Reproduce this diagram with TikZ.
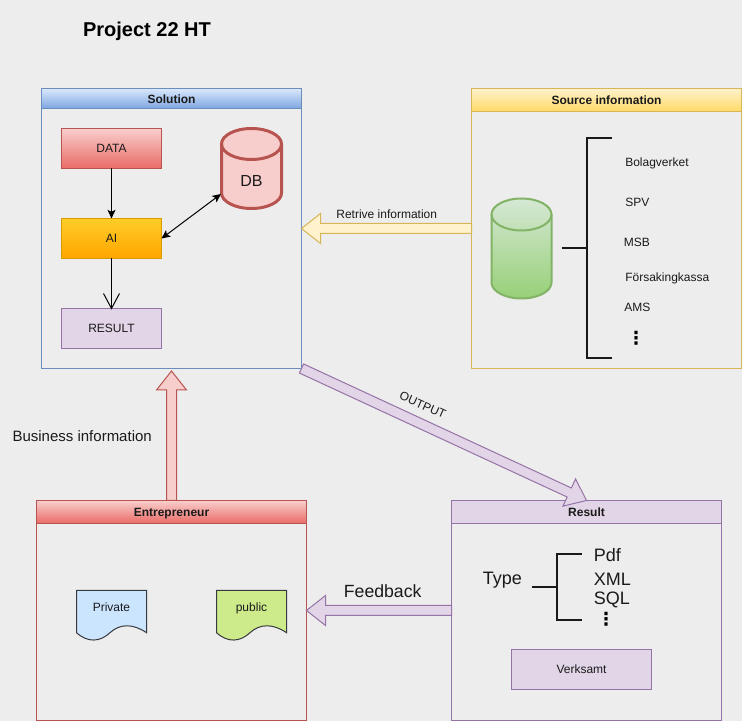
\documentclass[tikz,border=0pt]{standalone}
\usepackage{fontspec}
\setmainfont{Liberation Sans}
\newfontfamily\dotsfont{DejaVu Sans}
\usetikzlibrary{calc,arrows.meta}
\definecolor{pagegray}{HTML}{EDEDED}
\definecolor{bluefill}{HTML}{DAE8FC}
\definecolor{bluedeep}{HTML}{7EA6E0}
\definecolor{bluestroke}{HTML}{6C8EBF}
\definecolor{redfill}{HTML}{F8CECC}
\definecolor{reddeep}{HTML}{EA6B66}
\definecolor{redstroke}{HTML}{B85450}
\definecolor{yellowfill}{HTML}{FFF2CC}
\definecolor{yellowdeep}{HTML}{FFD966}
\definecolor{yellowstroke}{HTML}{D6B656}
\definecolor{orangefill}{HTML}{FFCD28}
\definecolor{orangedeep}{HTML}{FFA500}
\definecolor{orangestroke}{HTML}{D79B00}
\definecolor{greenfill}{HTML}{D5E8D4}
\definecolor{greendeep}{HTML}{97D077}
\definecolor{greenstroke}{HTML}{82B366}
\definecolor{purplefill}{HTML}{E1D5E7}
\definecolor{purplestroke}{HTML}{9673A6}
\definecolor{docstroke}{HTML}{36393D}
\definecolor{docblue}{HTML}{CCE5FF}
\definecolor{docgreen}{HTML}{CDEB8B}
\definecolor{inktext}{HTML}{1A1A1A}
\tikzset{
    panel/.style={draw=#1, line width=0.75pt, minimum width=195pt, inner sep=0pt, outer sep=0pt},
    panelhead/.style={draw=#1, line width=0.75pt, minimum width=195pt, inner sep=0pt, outer sep=0pt, anchor=north, text height=8pt, text depth=1pt, font=\fontsize{9}{10}\selectfont\bfseries, text=inktext},
    stepbox/.style={line width=0.75pt, minimum width=75pt, minimum height=30pt, inner sep=0pt, outer sep=0pt, font=\fontsize{9}{10}\selectfont, text=inktext},
    label/.style={font=\fontsize{9}{10}\selectfont, text=inktext, inner sep=0pt, text height=6.5pt, text depth=2pt},
    biglabel/.style={font=\fontsize{13.5}{15}\selectfont, text=inktext, inner sep=0pt},
    moredots/.style={font=\dotsfont\bfseries\fontsize{13.5}{15}\selectfont, inner sep=0pt},
    flow/.style={line width=0.75pt, -{Stealth[length=6.5pt,width=6pt,inset=1.5pt]}},
    bracket/.style={line width=1.5pt, black!90},
    cansize/.style 2 args={minimum width=#1, minimum height=#2, inner sep=0pt, outer sep=0pt},
}
% block arrow between two named points: style, tail, tip
\newcommand{\blockarrow}[3]{
    \coordinate (base) at ($(#3)!14.25pt!(#2)$);
    \draw[line width=0.75pt, #1] ($(#2)!3.75pt!90:(#3)$) -- ($(base)!3.75pt!-90:(#2)$) -- ($(base)!11.25pt!-90:(#2)$) -- (#3)
        -- ($(base)!11.25pt!90:(#2)$) -- ($(base)!3.75pt!90:(#2)$) -- ($(#2)!3.75pt!-90:(#3)$) -- cycle;
}
% cylinder over a named empty node: node, style, half width, lid height
\newcommand{\canshape}[4]{
    \draw[#2] ($(#1.north west)+(0,-#4)$) arc[x radius=#3, y radius=#4, start angle=180, end angle=0]
        -- ($(#1.south east)+(0,#4)$) arc[x radius=#3, y radius=#4, start angle=0, end angle=-180] -- cycle;
    \draw[#2, shade=none, fill=none] ($(#1.north west)+(0,-#4)$) arc[x radius=#3, y radius=#4, start angle=180, end angle=360];
}
\begin{document}
\begin{tikzpicture}[x=0.75pt, y=0.75pt]
\fill[pagegray] (0,0) rectangle (742,721);
\useasboundingbox (0,0) rectangle (742,721);

\node[font=\fontsize{15}{18}\selectfont\bfseries, inner sep=0pt] (title) at (147,689.5) {Project 22 HT};

% Solution
\node[panel=bluestroke, minimum height=210pt] (solution) at (171.5,492.5) {};
\node[panelhead=bluestroke, minimum height=15pt, top color=bluefill, bottom color=bluedeep] (solutionhead) at (solution.north) {Solution};
\node[stepbox, draw=redstroke, top color=redfill, bottom color=reddeep] (data) at (111.5,572.5) {DATA};
\node[stepbox, draw=orangestroke, top color=orangefill, bottom color=orangedeep] (ai) at (111.5,482.5) {AI};
\node[stepbox, draw=purplestroke, fill=purplefill] (res) at (111.5,392.5) {RESULT};
\node[cansize={45pt}{60pt}] (db) at (251.5,552.5) {};
\canshape{db}{draw=redstroke, line width=2.25pt, fill=redfill}{30}{15.5}
\node[font=\fontsize{12}{14}\selectfont, text=inktext, inner sep=0pt] (dblabel) at (251.5,539.5) {DB};
\coordinate (dbside) at (221,527);
\draw[flow] (data) -- (ai);
\draw[line width=0.75pt, {Stealth[length=6.5pt,width=6pt,inset=1.5pt]}-{Stealth[length=6.5pt,width=6pt,inset=1.5pt]}] (ai.east) -- (dbside);
\draw[line width=0.75pt] (ai) -- (res.north);
\draw[line width=0.75pt] ($(res.north)+(-8,15)$) -- (res.north) -- ($(res.north)+(8,15)$);

% Source information
\node[panel=yellowstroke, minimum height=210pt, minimum width=202.5pt] (source) at (606.5,492.5) {};
\node[panelhead=yellowstroke, minimum height=17.25pt, minimum width=202.5pt, top color=yellowfill, bottom color=yellowdeep] (sourcehead) at (source.north) {Source information};
\node[cansize={45pt}{75pt}] (store) at (521.5,472.5) {};
\canshape{store}{draw=greenstroke, line width=1.5pt, top color=greenfill, bottom color=greendeep}{30}{16}
\coordinate (stema) at (561.5,472.5);
\coordinate (stemb) at (586.5,472.5);
\coordinate (stemtop) at (611.5,582.5);
\coordinate (stembot) at (611.5,362.5);
\draw[bracket] (stema) -- (stemb);
\draw[bracket] (stemtop) -| (stemb) |- (stembot);
\node[label, anchor=west] (bolag) at (625,557.4) {Bolagverket};
\node[label, anchor=west] (spv) at (625,517.4) {SPV};
\node[label, anchor=west] (msb) at (623.5,477.4) {MSB};
\node[label, anchor=west] (kassa) at (625,442) {Försakingkassa};
\node[label, anchor=west] (ams) at (624,412) {AMS};
\node[moredots] (moresource) at (636,383) {⋮};

% Entrepreneur
\node[panel=redstroke, minimum height=165pt, minimum width=202.5pt] (entrepreneur) at (171.5,110.5) {};
\node[panelhead=redstroke, minimum height=17.25pt, minimum width=202.5pt, top color=redfill, bottom color=reddeep] (entrepreneurhead) at (entrepreneur.north) {Entrepreneur};
\foreach \name/\x/\col/\txt in {private/111.5/docblue/Private, public/251.5/docgreen/public}{
    \draw[docstroke, line width=0.75pt, fill=\col] (\x-35,130.5) -- (\x+35,130.5) -- (\x+35,88.3)
        .. controls (\x+21.5,97.5) and (\x+8.5,97.5) .. (\x-1.5,88.3)
        .. controls (\x-11.5,79) and (\x-23.5,78) .. (\x-35,88.3) -- cycle;
    \node[label] (\name) at (\x,112) {\txt};
}

% Result
\node[panel=purplestroke, minimum height=165pt, minimum width=202.5pt] (result) at (586.5,110.5) {};
\node[panelhead=purplestroke, minimum height=17.25pt, minimum width=202.5pt, fill=purplefill] (resulthead) at (result.north) {Result};
\node[stepbox, draw=purplestroke, fill=purplefill, minimum width=105pt] (verksamt) at (581.5,51.5) {Verksamt};
\coordinate (forka) at (531.5,133.5);
\coordinate (forkb) at (556.5,133.5);
\coordinate (forktop) at (581.5,167);
\coordinate (forkbot) at (581.5,100.7);
\draw[bracket] (forka) -- (forkb);
\draw[bracket] (forktop) -| (forkb) |- (forkbot);
\node[biglabel, anchor=west] (typelabel) at (482.5,140.5) {Type};
\node[biglabel, anchor=west] (pdf) at (593.5,166) {Pdf};
\node[biglabel, anchor=west] (xml) at (593.5,142) {XML};
\node[biglabel, anchor=west] (sql) at (593.5,121.5) {SQL};
\node[moredots] (moreresult) at (606,102) {⋮};

% links between the panels
\coordinate (solutionfoot) at ($(solution.south)+(0,-2.5)$);
\blockarrow{draw=yellowstroke, fill=yellowfill}{source.west}{solution.east}
\blockarrow{draw=redstroke, fill=redfill}{entrepreneur.north}{solutionfoot}
\blockarrow{draw=purplestroke, fill=purplefill}{solution.south east}{result.north}
\blockarrow{draw=purplestroke, fill=purplefill}{result.west}{entrepreneur.east}
\node[label] (retrive) at (386.7,505) {Retrive information};
\node[font=\fontsize{11.25}{13}\selectfont, text=inktext, inner sep=0pt, anchor=west] (business) at (12.3,285) {Business information};
\node[label, rotate=-24] (output) at (422.3,315) {OUTPUT};
\node[font=\fontsize{13.25}{15}\selectfont, text=inktext, inner sep=0pt] (feedback) at (382.7,129.5) {Feedback};
\end{tikzpicture}
\end{document}
